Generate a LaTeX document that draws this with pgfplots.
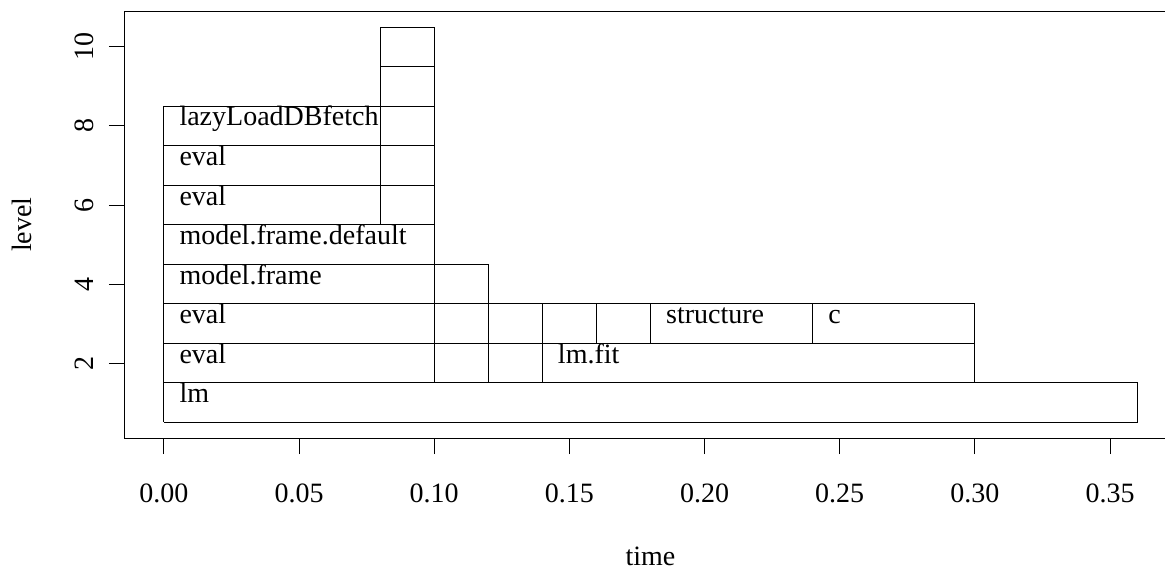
\documentclass[border=0pt]{standalone}
\usepackage{fontspec}
\setmainfont{Liberation Serif}
\usepackage{pgfplots}
\pgfplotsset{compat=1.18}
\newcommand{\rect}[4]{\addplot[black, line width=0.5pt, mark=none, line join=miter] coordinates {(#1,#3) (#2,#3) (#2,#4) (#1,#4) (#1,#3)};}
\begin{document}
\begin{tikzpicture}[font=\fontsize{14}{16}\selectfont]
\begin{axis}[
  scale only axis,
  width=525.5pt, height=213.35pt,
  at={(0,0)}, anchor=south west,
  xmin=-0.0144, xmax=0.3744,
  ymin=0.1, ymax=10.9,
  axis line style={line width=0.5pt},
  tick style={line width=0.5pt, black},
  tick align=outside, tick pos=left,
  major tick length=8pt,
  xtick={0,0.05,0.10,0.15,0.20,0.25,0.30,0.35},
  xticklabels={0.00,0.05,0.10,0.15,0.20,0.25,0.30,0.35},
  ytick={2,4,6,8,10},
  yticklabels={2,4,6,8,10},
  xticklabel style={anchor=base, yshift=-24pt},
  yticklabel style={xshift=-7.5pt, rotate=90, anchor=base},
  xlabel={time},
  ylabel={level},
  xlabel style={at={(axis description cs:0.5,-0.29763)}, anchor=base},
  ylabel style={at={(axis description cs:-0.0885,0.5)}, anchor=base},
]
% level 1
\rect{0}{0.36}{0.5}{1.5}
% level 2
\rect{0}{0.10}{1.5}{2.5}
\rect{0.10}{0.12}{1.5}{2.5}
\rect{0.12}{0.14}{1.5}{2.5}
\rect{0.14}{0.30}{1.5}{2.5}
% level 3
\rect{0}{0.10}{2.5}{3.5}
\rect{0.10}{0.12}{2.5}{3.5}
\rect{0.12}{0.14}{2.5}{3.5}
\rect{0.14}{0.16}{2.5}{3.5}
\rect{0.16}{0.18}{2.5}{3.5}
\rect{0.18}{0.24}{2.5}{3.5}
\rect{0.24}{0.30}{2.5}{3.5}
% level 4
\rect{0}{0.10}{3.5}{4.5}
\rect{0.10}{0.12}{3.5}{4.5}
% level 5
\rect{0}{0.10}{4.5}{5.5}
% level 6
\rect{0}{0.08}{5.5}{6.5}
\rect{0.08}{0.10}{5.5}{6.5}
% level 7
\rect{0}{0.08}{6.5}{7.5}
\rect{0.08}{0.10}{6.5}{7.5}
% level 8
\rect{0}{0.08}{7.5}{8.5}
\rect{0.08}{0.10}{7.5}{8.5}
% level 9, 10
\rect{0.08}{0.10}{8.5}{9.5}
\rect{0.08}{0.10}{9.5}{10.5}
% labels
\addplot[draw=none, mark=none, nodes near coords, point meta=explicit symbolic,
  nodes near coords style={anchor=base west, inner sep=0pt, xshift=7.6pt, black}]
  table[meta=label, row sep=\\] {
  x y label \\
  0 1 lm \\
  0 2 eval \\
  0.14 2 lm.fit \\
  0 3 eval \\
  0.18 3 structure \\
  0.24 3 c \\
  0 4 model.frame \\
  0 5 model.frame.default \\
  0 6 eval \\
  0 7 eval \\
  0 8 lazyLoadDBfetch \\
};
\end{axis}
\pgfresetboundingbox
\useasboundingbox (-62.5pt,-65.95pt) rectangle (520pt,219.05pt);
\end{tikzpicture}
\end{document}
